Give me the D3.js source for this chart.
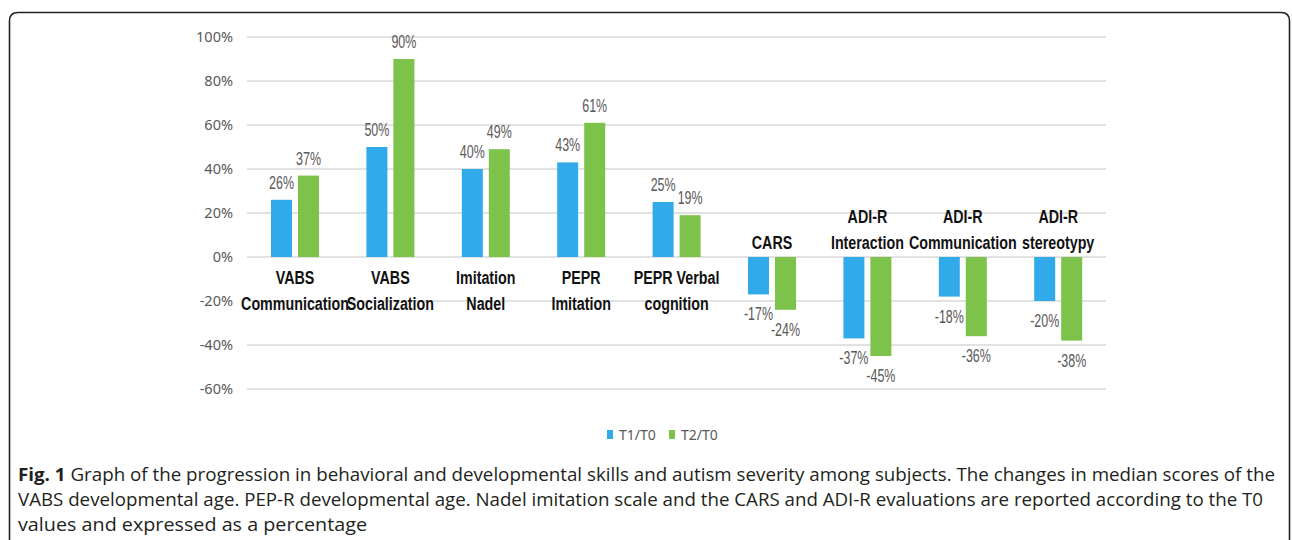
<!DOCTYPE html>
<html>
<head>
<meta charset="utf-8">
<script src="https://cdn.jsdelivr.net/npm/d3@7"></script>
<style>
  body { margin: 0; background: #fff; }
  svg { display: block; }
</style>
</head>
<body>
<div id="chart"></div>
<script>
// chart values
var categories = [
    ["VABS", "Communication"],
    ["VABS", "Socialization"],
    ["Imitation", "Nadel"],
    ["PEPR", "Imitation"],
    ["PEPR Verbal", "cognition"],
    ["CARS"],
    ["ADI-R", "Interaction"],
    ["ADI-R", "Communication"],
    ["ADI-R", "stereotypy"]
];
var seriesNames = ["T1/T0", "T2/T0"];
var t1Values = [26, 50, 40, 43, 25, -17, -37, -18, -20];
var t2Values = [37, 90, 49, 61, 19, -24, -45, -36, -38];
var yTicks = [-60, -40, -20, 0, 20, 40, 60, 80, 100];
var captionLines = [
    "Graph of the progression in behavioral and developmental skills and autism severity among subjects. The changes in median scores of the",
    "VABS developmental age. PEP-R developmental age. Nadel imitation scale and the CARS and ADI-R evaluations are reported according to the T0",
    "values and expressed as a percentage"
];

var colors = ["#31aae9", "#7dc24b"];
var width = 1292, height = 540;

var svg = d3.select("#chart").append("svg")
    .attr("width", width)
    .attr("height", height);

// frame around figure
svg.append("path")
    .attr("d", "M9.5,541 L9.5,21 Q9.5,12.5 18,12.5 L1281,12.5 Q1289.5,12.5 1289.5,21 L1289.5,541")
    .attr("fill", "none")
    .attr("stroke", "#222")
    .attr("stroke-width", 1.6);

var x0 = d3.scaleBand()
    .domain(d3.range(categories.length))
    .range([247.3, 1105.9])
    .paddingInner(0.497)
    .paddingOuter(0.2485);

var x1 = d3.scaleBand()
    .domain([0, 1])
    .range([0, x0.bandwidth()])
    .paddingInner(0.222);

var y = d3.scaleLinear()
    .domain([-60, 100])
    .range([389, 37]);

// gridlines
svg.append("g")
    .selectAll("line")
    .data(yTicks)
    .enter()
    .append("line")
    .attr("x1", 247)
    .attr("x2", 1106)
    .attr("y1", function(d) { return y(d); })
    .attr("y2", function(d) { return y(d); })
    .attr("stroke", "#d9d9d9")
    .attr("stroke-width", 1.5);

// y axis labels
svg.append("g")
    .selectAll("text")
    .data(yTicks)
    .enter()
    .append("text")
    .attr("x", 233)
    .attr("y", function(d) { return y(d) + 5; })
    .attr("text-anchor", "end")
    .style("font-family", "'Noto Sans', sans-serif")
    .style("font-size", "14.5px")
    .attr("fill", "#595959")
    .text(function(d) { return d + "%"; });

// bars
var rows = categories.map(function(c, i) { return {i: i, vals: [t1Values[i], t2Values[i]]}; });

var groups = svg.append("g")
    .selectAll("g")
    .data(rows)
    .enter()
    .append("g")
    .attr("transform", function(d) { return "translate(" + x0(d.i) + ",0)"; });

groups.selectAll("rect")
    .data(function(d) { return d.vals.map(function(v, s) { return {s: s, v: v}; }); })
    .enter()
    .append("rect")
    .attr("x", function(d) { return x1(d.s); })
    .attr("width", x1.bandwidth())
    .attr("y", function(d) { return y(Math.max(0, d.v)); })
    .attr("height", function(d) { return Math.abs(y(d.v) - y(0)); })
    .attr("fill", function(d) { return colors[d.s]; });

// data labels (narrowed, slightly tall like the original)
groups.selectAll("g.lbl")
    .data(function(d) { return d.vals.map(function(v, s) { return {s: s, v: v}; }); })
    .enter()
    .append("g")
    .attr("class", "lbl")
    .attr("transform", function(d) {
        var cx = x1(d.s) + x1.bandwidth() / 2;
        var ly = d.v >= 0 ? y(d.v) - 11 : y(d.v) + 26;
        return "translate(" + cx + "," + ly + ") scale(0.83,1.2)";
    })
    .append("text")
    .attr("text-anchor", "middle")
    .style("font-family", "'Liberation Sans', Arial, sans-serif")
    .style("font-size", "15px")
    .attr("fill", "#595959")
    .text(function(d) { return d.v + "%"; });

// category labels: below the axis for gains, above it for losses
rows.forEach(function(r) {
    var lines = categories[r.i];
    var cx = x0(r.i) + x0.bandwidth() / 2;
    var neg = r.vals[0] < 0;
    lines.forEach(function(line, k) {
        var ly = neg ? 249 - (lines.length - 1 - k) * 26 : 284 + k * 26;
        svg.append("g")
            .attr("transform", "translate(" + cx + "," + ly + ") scale(0.84,1.1)")
            .append("text")
            .attr("text-anchor", "middle")
            .style("font-family", "'Liberation Sans', Arial, sans-serif")
            .style("font-weight", "bold")
            .style("font-size", "17px")
            .attr("fill", "#111")
            .text(line);
    });
});

// legend
var legend = svg.append("g").attr("transform", "translate(607,430)");
var legendX = [0, 62];
seriesNames.forEach(function(name, s) {
    legend.append("rect")
        .attr("x", legendX[s])
        .attr("y", 0)
        .attr("width", 6)
        .attr("height", 9)
        .attr("fill", colors[s]);
    legend.append("text")
        .attr("x", legendX[s] + 12)
        .attr("y", 10)
        .style("font-family", "'Noto Sans', sans-serif")
        .style("font-size", "14px")
        .attr("fill", "#595959")
        .text(name);
});

// caption
var captionEnds = [1275, 1263, 367];
captionLines.forEach(function(line, k) {
    var t = svg.append("text")
        .attr("x", 18)
        .attr("y", 481 + k * 25)
        .attr("textLength", captionEnds[k] - 18)
        .attr("lengthAdjust", "spacingAndGlyphs")
        .style("font-family", "'Open Sans', sans-serif")
        .style("font-size", "18px")
        .attr("fill", "#231f20");
    if (k === 0) {
        t.append("tspan").style("font-weight", "bold").text("Fig. 1");
        t.append("tspan").text(" " + line);
    } else {
        t.text(line);
    }
});
</script>
</body>
</html>
